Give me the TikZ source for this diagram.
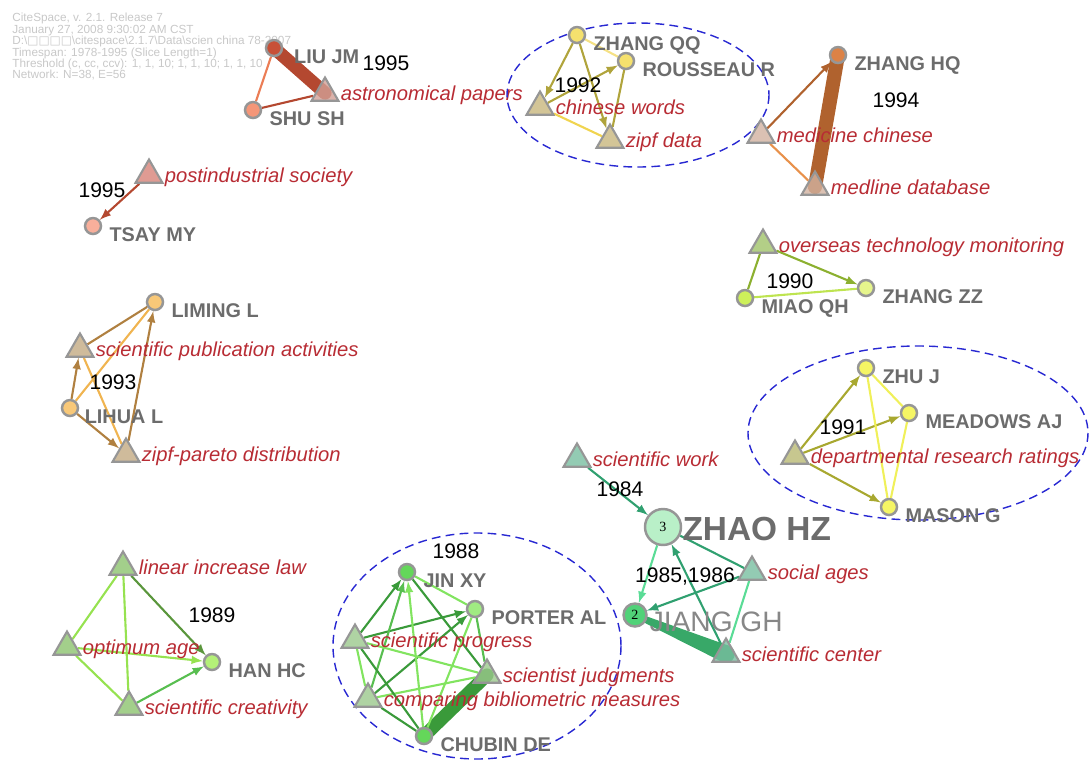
\documentclass[tikz,border=0pt]{standalone}
\usepackage{fontspec}
\setmainfont{Liberation Sans}
\newfontfamily\boxfont{DejaVu Sans}
\newfontfamily\numfont{Liberation Serif}
\usetikzlibrary{arrows}
\usetikzlibrary{shapes.geometric, positioning, calc, backgrounds}
\definecolor{kwred}{RGB}{184, 44, 52}
\definecolor{nmgray}{RGB}{108, 108, 108}
\definecolor{nmlight}{RGB}{135, 135, 135}
\definecolor{rimgray}{RGB}{150, 150, 150}
\definecolor{infogray}{RGB}{200, 200, 200}
\definecolor{grpblue}{RGB}{40, 40, 210}
% link colours
\definecolor{rust}{RGB}{180, 72, 48}
\definecolor{salmon}{RGB}{235, 125, 85}
\definecolor{myolive}{RGB}{176, 164, 60}
\definecolor{myyellow}{RGB}{240, 212, 80}
\definecolor{brownA}{RGB}{176, 98, 46}
\definecolor{orangeA}{RGB}{232, 145, 75}
\definecolor{limeA}{RGB}{140, 176, 48}
\definecolor{limeB}{RGB}{190, 228, 80}
\definecolor{tanA}{RGB}{176, 128, 64}
\definecolor{tanB}{RGB}{240, 180, 80}
\definecolor{ydark}{RGB}{168, 168, 48}
\definecolor{ylight}{RGB}{240, 240, 90}
\definecolor{tealA}{RGB}{48, 160, 112}
\definecolor{tealB}{RGB}{90, 220, 150}
\definecolor{tealC}{RGB}{56, 168, 104}
\definecolor{gdark}{RGB}{58, 154, 58}
\definecolor{gmid}{RGB}{88, 190, 80}
\definecolor{glight}{RGB}{130, 228, 96}
\definecolor{gfour}{RGB}{90, 150, 60}
\definecolor{gfive}{RGB}{150, 226, 80}
% node colours
\definecolor{cAa}{RGB}{200, 80, 55}
\definecolor{cAb}{RGB}{245, 150, 120}
\definecolor{cAt}{RGB}{210, 160, 150}
\definecolor{cBt}{RGB}{215, 130, 120}
\definecolor{cBa}{RGB}{248, 175, 155}
\definecolor{cCa}{RGB}{245, 225, 110}
\definecolor{cCt}{RGB}{200, 182, 125}
\definecolor{cDa}{RGB}{220, 130, 70}
\definecolor{cDt}{RGB}{210, 178, 160}
\definecolor{cEt}{RGB}{160, 195, 105}
\definecolor{cEa}{RGB}{205, 240, 90}
\definecolor{cEb}{RGB}{230, 245, 140}
\definecolor{cFa}{RGB}{248, 200, 120}
\definecolor{cFt}{RGB}{195, 170, 130}
\definecolor{cGa}{RGB}{245, 245, 100}
\definecolor{cGt}{RGB}{185, 185, 115}
\definecolor{cHa}{RGB}{185, 240, 200}
\definecolor{cHb}{RGB}{80, 210, 120}
\definecolor{cHt}{RGB}{120, 190, 160}
\definecolor{cIa}{RGB}{100, 215, 90}
\definecolor{cIb}{RGB}{160, 235, 130}
\definecolor{cIt}{RGB}{155, 200, 140}
\definecolor{cJa}{RGB}{180, 240, 120}
\definecolor{cJt}{RGB}{140, 195, 110}

\begin{document}
\begin{tikzpicture}[x=0.02cm, y=-0.02cm,
  au/.style={circle, draw=rimgray, line width=1.4pt, minimum size=0.32cm, inner sep=0pt},
  kw/.style={regular polygon, regular polygon sides=3, draw=rimgray, line width=1.2pt, minimum size=0.62cm, inner sep=0pt, fill opacity=0.8},
  aut/.style={font=\fontsize{11.3}{12}\selectfont\bfseries, text=nmgray, inner sep=0pt, text height=8.1pt, text depth=0pt, yshift=-4.5pt},
  kwt/.style={font=\fontsize{11.5}{12}\selectfont\itshape, text=kwred, inner sep=0pt, text height=8.3pt, text depth=2.4pt, yshift=-1.3pt},
  bigt/.style={text=nmgray, inner sep=0pt, text depth=0pt},
  yr/.style={font=\fontsize{12}{13}\selectfont, inner sep=0pt},
  ln/.style={line width=1.2pt},
  ar/.style={-latex, line width=1.2pt},
  grp/.style={draw=grpblue, line width=0.8pt, dash pattern=on 5pt off 3pt}
]
\useasboundingbox (0,0) rectangle (1090,762);

\node[anchor=north west, inner sep=0pt, align=left, text=infogray, font=\fontsize{6.7}{6.5}\selectfont] (info) at (12,13)
  {CiteSpace, v. 2.1. Release 7\\
   January 27, 2008 9:30:02 AM CST\\
   D:\textbackslash{\boxfont □□□□}\textbackslash citespace\textbackslash 2.1.7\textbackslash Data\textbackslash scien china 78-2007\\
   Timespan: 1978-1995 (Slice Length=1)\\
   Threshold (c, cc, ccv): 1, 1, 10; 1, 1, 10; 1, 1, 10\\
   Network: N=38, E=56};

% 1995
\node[au, fill=cAa] (liujm) at (274,48) {};
\node[aut, right=6pt of liujm] (liujm-t) {LIU JM};
\node[kw, fill=cAt] (astro) at (325,93) {};
\node[kwt, right=3pt of astro] (astro-t) {astronomical papers};
\node[au, fill=cAb] (shush) at (253,110) {};
\node[aut, right=4pt of shush] (shush-t) {SHU SH};
\node[yr] (yrA) at (386,63) {1995};

\node[kw, fill=cBt] (postind) at (149,175) {};
\node[kwt, right=3pt of postind] (postind-t) {postindustrial society};
\node[au, fill=cBa] (tsaymy) at (93,226) {};
\node[aut, right=4pt of tsaymy] (tsaymy-t) {TSAY MY};
\node[yr] (yrB) at (102,190) {1995};

% 1992
\draw[grp] (638,95) ellipse (131 and 72);
\node[au, fill=cCa] (zhangqq) at (577,35) {};
\node[aut, right=4pt of zhangqq] (zhangqq-t) {ZHANG QQ};
\node[au, fill=cCa] (rousseau) at (626,61) {};
\node[aut, right=4pt of rousseau] (rousseau-t) {ROUSSEAU R};
\node[kw, fill=cCt] (chwords) at (540,107) {};
\node[kwt, right=3pt of chwords] (chwords-t) {chinese words};
\node[kw, fill=cCt] (zipfdata) at (610,140) {};
\node[kwt, right=3pt of zipfdata] (zipfdata-t) {zipf data};
\node[yr] (yrC) at (578,85) {1992};

% 1994
\node[au, fill=cDa] (zhanghq) at (838,55) {};
\node[aut, right=4pt of zhanghq] (zhanghq-t) {ZHANG HQ};
\node[kw, fill=cDt] (medchin) at (761,135) {};
\node[kwt, right=3pt of medchin] (medchin-t) {medicine chinese};
\node[kw, fill=cDt] (medline) at (815,187) {};
\node[kwt, right=3pt of medline] (medline-t) {medline database};
\node[yr] (yrD) at (896,100) {1994};

% 1990
\node[kw, fill=cEt] (overseas) at (763,245) {};
\node[kwt, right=3pt of overseas] (overseas-t) {overseas technology monitoring};
\node[au, fill=cEa] (miaoqh) at (745,298) {};
\node[aut, right=4pt of miaoqh] (miaoqh-t) {MIAO QH};
\node[au, fill=cEb] (zhangzz) at (866,288) {};
\node[aut, right=4pt of zhangzz] (zhangzz-t) {ZHANG ZZ};
\node[yr] (yrE) at (790,281) {1990};

% 1993
\node[au, fill=cFa] (liming) at (155,302) {};
\node[aut, right=4pt of liming] (liming-t) {LIMING L};
\node[kw, fill=cFt] (scipub) at (80,349) {};
\node[kwt, right=3pt of scipub] (scipub-t) {scientific publication activities};
\node[au, fill=cFa] (lihua) at (70,408) {};
\node[aut, right=3pt of lihua] (lihua-t) {LIHUA L};
\node[kw, fill=cFt] (zipfpar) at (126,454) {};
\node[kwt, right=3pt of zipfpar] (zipfpar-t) {zipf-pareto distribution};
\node[yr] (yrF) at (113,382) {1993};

% 1991
\draw[grp] (918,433) ellipse (170 and 87);
\node[au, fill=cGa] (zhuj) at (866,368) {};
\node[aut, right=4pt of zhuj] (zhuj-t) {ZHU J};
\node[au, fill=cGa] (meadows) at (909,413) {};
\node[aut, right=4pt of meadows] (meadows-t) {MEADOWS AJ};
\node[kw, fill=cGt] (dept) at (795,456) {};
\node[kwt, right=3pt of dept] (dept-t) {departmental research ratings};
\node[au, fill=cGa] (masong) at (889,507) {};
\node[aut, right=4pt of masong] (masong-t) {MASON G};
\node[yr] (yrG) at (843,427) {1991};

% 1984 - 1986
\node[kw, fill=cHt] (sciwork) at (577,459) {};
\node[kwt, right=3pt of sciwork] (sciwork-t) {scientific work};
\node[au, minimum size=0.72cm, fill=cHa, font=\numfont\fontsize{8}{8}\selectfont] (zhaohz) at (663,527) {3};
\node[bigt, right=0pt of zhaohz, font=\fontsize{19}{20}\selectfont\bfseries, text height=13.6pt, yshift=-1pt] (zhaohz-t) {ZHAO HZ};
\node[kw, fill=cHt] (socages) at (752,572) {};
\node[kwt, right=3pt of socages] (socages-t) {social ages};
\node[au, minimum size=0.46cm, fill=cHb, font=\numfont\fontsize{8}{8}\selectfont] (jianggh) at (635,615) {2};
\node[bigt, right=1pt of jianggh, text=nmlight, font=\fontsize{16}{17}\selectfont, text height=11.5pt, yshift=-3.4pt] (jianggh-t) {JIANG GH};
\node[kw, fill=cHt] (scicent) at (726,654) {};
\node[kwt, right=3pt of scicent] (scicent-t) {scientific center};
\node[yr] (yrH) at (620,489) {1984};
\node[yr] (yrI) at (685,576) {1985,1986};

% 1988
\draw[grp] (477,646) ellipse (144 and 113);
\node[au, fill=cIa] (jinxy) at (407,572) {};
\node[aut, right=4pt of jinxy] (jinxy-t) {JIN XY};
\node[au, fill=cIb] (porter) at (475,609) {};
\node[aut, right=4pt of porter] (porter-t) {PORTER AL};
\node[kw, fill=cIt] (sciprog) at (355,640) {};
\node[kwt, right=3pt of sciprog] (sciprog-t) {scientific progress};
\node[kw, fill=cIt] (scijudg) at (487,675) {};
\node[kwt, right=3pt of scijudg] (scijudg-t) {scientist judgments};
\node[kw, fill=cIt] (compbib) at (368,699) {};
\node[kwt, right=3pt of compbib] (compbib-t) {comparing bibliometric measures};
\node[au, fill=cIa] (chubin) at (424,736) {};
\node[aut, right=4pt of chubin] (chubin-t) {CHUBIN DE};
\node[yr] (yrJ) at (456,551) {1988};

% 1989
\node[kw, fill=cJt] (linear) at (123,567) {};
\node[kwt, right=3pt of linear] (linear-t) {linear increase law};
\node[kw, fill=cJt] (optage) at (67,647) {};
\node[kwt, right=3pt of optage] (optage-t) {optimum age};
\node[au, fill=cJa] (hanhc) at (212,662) {};
\node[aut, right=4pt of hanhc] (hanhc-t) {HAN HC};
\node[kw, fill=cJt] (scicreat) at (129,707) {};
\node[kwt, right=3pt of scicreat] (scicreat-t) {scientific creativity};
\node[yr] (yrK) at (212,615) {1989};

\begin{pgfonlayer}{background}
\draw[line width=7.5pt, line cap=round, rust] (liujm.center) -- (astro.center);
\draw[ln, salmon] (liujm) -- (shush);
\draw[ln, rust] (shush) -- (astro);
\draw[ar, rust] (postind) -- (tsaymy);

\draw[ar, myolive] (zhangqq) -- (chwords);
\draw[ar, myolive] (chwords) -- (rousseau);
\draw[ar, myolive] (zhangqq) -- (zipfdata);
\draw[ln, myolive] (rousseau) -- (zipfdata);
\draw[ln, myyellow] (chwords) -- (zipfdata);
\draw[ln, myyellow!70] (zhangqq) -- (rousseau);

\draw[line width=8pt, line cap=round, brownA] (zhanghq.center) -- (medline.center);
\draw[ar, brownA] (medchin) -- (zhanghq);
\draw[ln, orangeA] (medchin) -- (medline);

\draw[ar, limeA] (overseas) -- (zhangzz);
\draw[ln, limeA] (overseas) -- (miaoqh);
\draw[ln, limeB] (miaoqh) -- (zhangzz);

\draw[ln, tanA] (scipub) -- (liming);
\draw[ar, tanA] (lihua) -- (scipub);
\draw[ln, tanB] (lihua) -- (liming);
\draw[ln, tanB] (scipub) -- (zipfpar);
\draw[ar, tanA] (lihua) -- (zipfpar);
\draw[ar, tanA] (zipfpar) -- (liming);

\draw[ar, ydark] (dept) -- (zhuj);
\draw[ar, ydark] (dept) -- (meadows);
\draw[ar, ydark] (dept) -- (masong);
\draw[ln, ylight] (zhuj) -- (meadows);
\draw[ln, ylight] (zhuj) -- (masong);
\draw[ln, ylight] (meadows) -- (masong);

\draw[ar, tealA] (sciwork) -- (zhaohz);
\draw[ln, tealA] (zhaohz) -- (socages);
\draw[ar, tealB] (zhaohz) -- (jianggh);
\draw[ar, tealA] (socages) -- (jianggh);
\draw[ar, tealA] (scicent) -- (zhaohz);
\draw[ln, tealB] (socages) -- (scicent);
\fill[tealC] ($(jianggh)!1.5pt!90:(scicent)$) -- ($(scicent)!5pt!-90:(jianggh)$)
  -- ($(scicent)!5pt!90:(jianggh)$) -- ($(jianggh)!1.5pt!-90:(scicent)$) -- cycle;
\fill[tealC] (scicent) circle (5pt);

\draw[line width=7.5pt, line cap=round, gdark] (chubin.center) -- (scijudg.center);
\draw[ar, gdark] (sciprog) -- (jinxy);
\draw[ar, gdark] (sciprog) -- (porter);
\draw[ar, gmid] (compbib) -- (jinxy);
\draw[ar, gdark] (compbib) -- (porter);
\draw[ln, glight] (compbib) -- (scijudg);
\draw[ln, glight] (sciprog) -- (scijudg);
\draw[ln, gdark] (sciprog) -- (chubin);
\draw[ln, glight] (jinxy) -- (porter);
\draw[ln, gdark] (jinxy) -- (scijudg);
\draw[ar, glight] (chubin) -- (jinxy);
\draw[ln, glight] (chubin) -- (porter);
\draw[ln, gmid] (porter) -- (scijudg);
\draw[ln, gdark] (compbib) -- (chubin);
\draw[ln, glight] (sciprog) -- (compbib);

\draw[ar, gfour] (linear) -- (hanhc);
\draw[ln, gfive] (linear) -- (optage);
\draw[ln, gfive] (linear) -- (scicreat);
\draw[ar, gfive] (optage) -- (hanhc);
\draw[ln, gfive] (optage) -- (scicreat);
\draw[ar, gmid] (scicreat) -- (hanhc);
\end{pgfonlayer}
\end{tikzpicture}
\end{document}
